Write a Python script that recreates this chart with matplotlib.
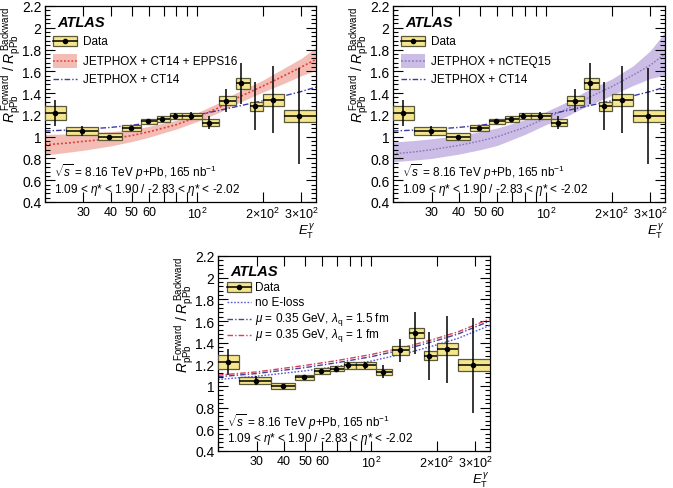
import numpy as np
import matplotlib
matplotlib.use("Agg")
import matplotlib.pyplot as plt
from matplotlib.patches import Rectangle
from matplotlib.lines import Line2D
from matplotlib.ticker import FixedLocator, FixedFormatter, MultipleLocator

plt.rcParams['font.family'] = ['Liberation Sans', 'DejaVu Sans']
plt.rcParams['mathtext.fontset'] = 'custom'
plt.rcParams['mathtext.rm'] = 'Liberation Sans'
plt.rcParams['mathtext.it'] = 'Liberation Sans:italic'
plt.rcParams['mathtext.bf'] = 'Liberation Sans:bold'

# ---------------- data ----------------
bin_edges = [20, 25, 35, 45, 55, 65, 75, 85, 105, 125, 150, 175, 200, 250, 350]
data_x = [22.2, 29.7, 39.5, 49.6, 59.4, 69.0, 78.8, 93.9, 113.3, 135.3, 158.4, 184.5, 222.7, 293.6]
data_y = [1.22, 1.05, 1.00, 1.08, 1.14, 1.16, 1.19, 1.19, 1.13, 1.33, 1.49, 1.28, 1.34, 1.19]
data_stat = [0.12, 0.045, 0.015, 0.015, 0.015, 0.025, 0.03, 0.035, 0.06, 0.105, 0.19, 0.22, 0.31, 0.44]
data_sys = [0.065, 0.035, 0.03, 0.026, 0.026, 0.026, 0.03, 0.03, 0.03, 0.04, 0.05, 0.04, 0.055, 0.055]

th_x = [20, 25, 30, 40, 50, 60, 80, 100, 125, 150, 200, 250, 300, 350]
epps16_c = [0.926, 0.94, 0.957, 0.98, 1.01, 1.045, 1.11, 1.18, 1.265, 1.35, 1.465, 1.56, 1.64, 1.71]
epps16_lo = [0.83, 0.855, 0.875, 0.915, 0.955, 0.995, 1.07, 1.14, 1.22, 1.30, 1.41, 1.49, 1.56, 1.61]
epps16_hi = [1.02, 1.025, 1.035, 1.045, 1.065, 1.095, 1.15, 1.22, 1.31, 1.40, 1.52, 1.63, 1.72, 1.82]
ct14 = [1.052, 1.06, 1.068, 1.085, 1.105, 1.125, 1.165, 1.20, 1.24, 1.275, 1.33, 1.375, 1.415, 1.455]
ncteq_c = [0.842, 0.86, 0.88, 0.92, 0.96, 1.00, 1.085, 1.17, 1.255, 1.34, 1.46, 1.565, 1.657, 1.76]
ncteq_lo = [0.77, 0.785, 0.80, 0.84, 0.88, 0.92, 1.02, 1.11, 1.19, 1.27, 1.38, 1.47, 1.535, 1.565]
ncteq_hi = [0.95, 0.965, 0.98, 1.01, 1.045, 1.08, 1.155, 1.23, 1.32, 1.41, 1.53, 1.65, 1.79, 1.96]

eloss_x = [20, 30, 50, 70, 100, 150, 200, 250, 350]
no_eloss = [1.06, 1.09, 1.14, 1.18, 1.23, 1.31, 1.38, 1.44, 1.56]
eloss_15 = [1.085, 1.115, 1.17, 1.215, 1.27, 1.35, 1.42, 1.48, 1.60]
eloss_10 = [1.10, 1.13, 1.19, 1.235, 1.29, 1.37, 1.44, 1.50, 1.62]

xtick_vals = [30, 40, 50, 60, 100, 200, 300]
xtick_labels = ['30', '40', '50', '60', r'$10^{2}$', r'$2\!\times\!10^{2}$', r'$3\!\times\!10^{2}$']

# ---------------- styles ----------------
BOX_FC = '#f5e68e'
BOX_EC = '#5a5a3a'
RED = '#e0423c'
RED_BAND = '#f3bdb6'
BLUE = '#3b3ba8'
PURP = '#8a78b8'
PURP_BAND = '#cbbde6'

fig = plt.figure(figsize=(6.73, 4.89), dpi=100)
W, H = 673.0, 489.0

def make_ax(left, top, right, bottom):
    return fig.add_axes([left / W, 1 - bottom / H, (right - left) / W, (bottom - top) / H])

ax1 = make_ax(45, 7, 316, 203)
ax2 = make_ax(393, 7, 665, 203)
ax3 = make_ax(218, 257, 490, 452)

def style_axes(ax):
    ax.set_xscale('log')
    ax.set_xlim(20, 350)
    ax.set_ylim(0.4, 2.2)
    ax.xaxis.set_major_locator(FixedLocator(xtick_vals))
    ax.xaxis.set_major_formatter(FixedFormatter(xtick_labels))
    ax.xaxis.set_minor_locator(FixedLocator([20, 70, 80, 90]))
    ax.xaxis.set_minor_formatter(FixedFormatter([]))
    ax.yaxis.set_major_locator(MultipleLocator(0.2))
    ax.yaxis.set_minor_locator(MultipleLocator(0.04))
    ax.yaxis.set_major_formatter(plt.FuncFormatter(lambda v, p: '%g' % round(v, 2)))
    ax.tick_params(which='both', direction='in', top=True, right=True, colors='black')
    ax.tick_params(axis='y', labelsize=10, pad=2.5)
    ax.tick_params(axis='x', labelsize=9, pad=3)
    ax.tick_params(which='major', length=7, width=0.8)
    ax.tick_params(which='minor', length=3.5, width=0.8)
    ax.tick_params(axis='x', which='minor', length=7)
    for s in ax.spines.values():
        s.set_linewidth(0.9)
    ax.text(-0.125, 1.0, r'$R^{\,\mathrm{Forward}}_{\mathrm{pPb}}\ /\ R^{\,\mathrm{Backward}}_{\mathrm{pPb}}$',
            transform=ax.transAxes, rotation=90, ha='center', va='top', fontsize=10)
    ax.text(1.0, -0.095, r'$E_{\mathrm{T}}^{\,\gamma}$', transform=ax.transAxes,
            ha='right', va='top', fontsize=9.5)

def draw_data(ax):
    lo = np.array(bin_edges[:-1], float)
    hi = np.array(bin_edges[1:], float)
    y = np.array(data_y)
    sys = np.array(data_sys)
    x = np.array(data_x)
    ax.bar(lo, 2 * sys, width=hi - lo, bottom=y - sys, align='edge',
           facecolor=BOX_FC, edgecolor=BOX_EC, linewidth=0.9, zorder=3)
    ax.errorbar(x, y, yerr=data_stat, xerr=[x - lo, hi - x], fmt='o', ms=3,
                color='black', ecolor='black', elinewidth=1.1, capsize=0, zorder=4)

def atlas_text(ax, yy):
    ax.text(0.045, yy, 'ATLAS', transform=ax.transAxes, fontsize=10.5,
            fontweight='bold', fontstyle='italic', va='center', ha='left')

def legend_data(ax, x0, x1, yy, tx):
    t = ax.transAxes
    h = 0.05
    ax.add_patch(Rectangle((x0, yy - h / 2), x1 - x0, h, transform=t, facecolor=BOX_FC,
                           edgecolor=BOX_EC, lw=0.9, zorder=5))
    ax.add_line(Line2D([x0, x1], [yy, yy], transform=t, color='black', lw=1.1, zorder=6))
    ax.add_line(Line2D([(x0 + x1) / 2], [yy], transform=t, marker='o', ms=3, color='black', zorder=7))
    ax.text(tx, yy, 'Data', transform=ax.transAxes, fontsize=8.5, va='center', ha='left')

def legend_band(ax, x0, x1, yy, tx, band_c, line_c, ls, label):
    t = ax.transAxes
    h = 0.068
    ax.add_patch(Rectangle((x0, yy - h / 2), x1 - x0, h, transform=t, facecolor=band_c,
                           edgecolor='none', zorder=5))
    ax.add_line(Line2D([x0, x1], [yy, yy], transform=t, color=line_c, lw=1.1, ls=ls, zorder=6))
    ax.text(tx, yy, label, transform=ax.transAxes, fontsize=8.5, va='center', ha='left')

def legend_line(ax, x0, x1, yy, tx, color, ls, label):
    ax.add_line(Line2D([x0, x1], [yy, yy], transform=ax.transAxes, color=color, lw=1.0, ls=ls, zorder=6))
    ax.text(tx, yy, label, transform=ax.transAxes, fontsize=8.5, va='center', ha='left')

def bottom_text(ax):
    ax.text(0.033, 0.155, r'$\sqrt{s}$ = 8.16 TeV $p$+Pb, 165 nb$^{-1}$', transform=ax.transAxes,
            fontsize=8.5, va='center', ha='left')
    ax.text(0.033, 0.066, r'1.09 < $\eta$* < 1.90 / -2.83 < $\eta$* < -2.02', transform=ax.transAxes,
            fontsize=8.5, va='center', ha='left')

DASHDOT = (0, (4, 1.5, 1, 1.5))
DOT = (0, (1.2, 1.2))

# ---- panel 1 ----
style_axes(ax1)
ax1.fill_between(th_x, epps16_lo, epps16_hi, color=RED_BAND, lw=0, zorder=1)
ax1.plot(th_x, epps16_c, color=RED, ls=DOT, lw=1.2, zorder=2)
ax1.plot(th_x, ct14, color=BLUE, ls=DASHDOT, lw=1.0, zorder=2)
draw_data(ax1)
atlas_text(ax1, 0.918)
legend_data(ax1, 0.03, 0.118, 0.821, 0.14)
legend_band(ax1, 0.03, 0.118, 0.719, 0.14, RED_BAND, RED, DOT, 'JETPHOX + CT14 + EPPS16')
legend_line(ax1, 0.03, 0.118, 0.628, 0.14, BLUE, DASHDOT, 'JETPHOX + CT14')
bottom_text(ax1)

# ---- panel 2 ----
style_axes(ax2)
ax2.fill_between(th_x, ncteq_lo, ncteq_hi, color=PURP_BAND, lw=0, zorder=1)
ax2.plot(th_x, ncteq_c, color=PURP, ls=DOT, lw=1.0, zorder=2)
ax2.plot(th_x, ct14, color=BLUE, ls=DASHDOT, lw=1.0, zorder=2)
draw_data(ax2)
atlas_text(ax2, 0.918)
legend_data(ax2, 0.03, 0.118, 0.821, 0.14)
legend_band(ax2, 0.03, 0.118, 0.719, 0.14, PURP_BAND, PURP, DOT, 'JETPHOX + nCTEQ15')
legend_line(ax2, 0.03, 0.118, 0.628, 0.14, BLUE, DASHDOT, 'JETPHOX + CT14')
bottom_text(ax2)

# ---- panel 3 ----
style_axes(ax3)
ax3.plot(eloss_x, no_eloss, color='#5b5bd0', ls=DOT, lw=1.0, zorder=2)
ax3.plot(eloss_x, eloss_15, color='#4a3f9a', ls=DASHDOT, lw=1.0, zorder=2)
ax3.plot(eloss_x, eloss_10, color='#d8405a', ls=DASHDOT, lw=1.0, zorder=2)
draw_data(ax3)
atlas_text(ax3, 0.923)
legend_data(ax3, 0.033, 0.121, 0.841, 0.136)
legend_line(ax3, 0.033, 0.121, 0.764, 0.136, '#5b5bd0', DOT, 'no E-loss')
legend_line(ax3, 0.033, 0.121, 0.677, 0.136, '#4a3f9a', DASHDOT, r'$\mu$ = 0.35 GeV, $\lambda_{\mathrm{q}}$ = 1.5 fm')
legend_line(ax3, 0.033, 0.121, 0.595, 0.136, '#d8405a', DASHDOT, r'$\mu$ = 0.35 GeV, $\lambda_{\mathrm{q}}$ = 1 fm')
bottom_text(ax3)

fig.savefig('out.png', dpi=100)
